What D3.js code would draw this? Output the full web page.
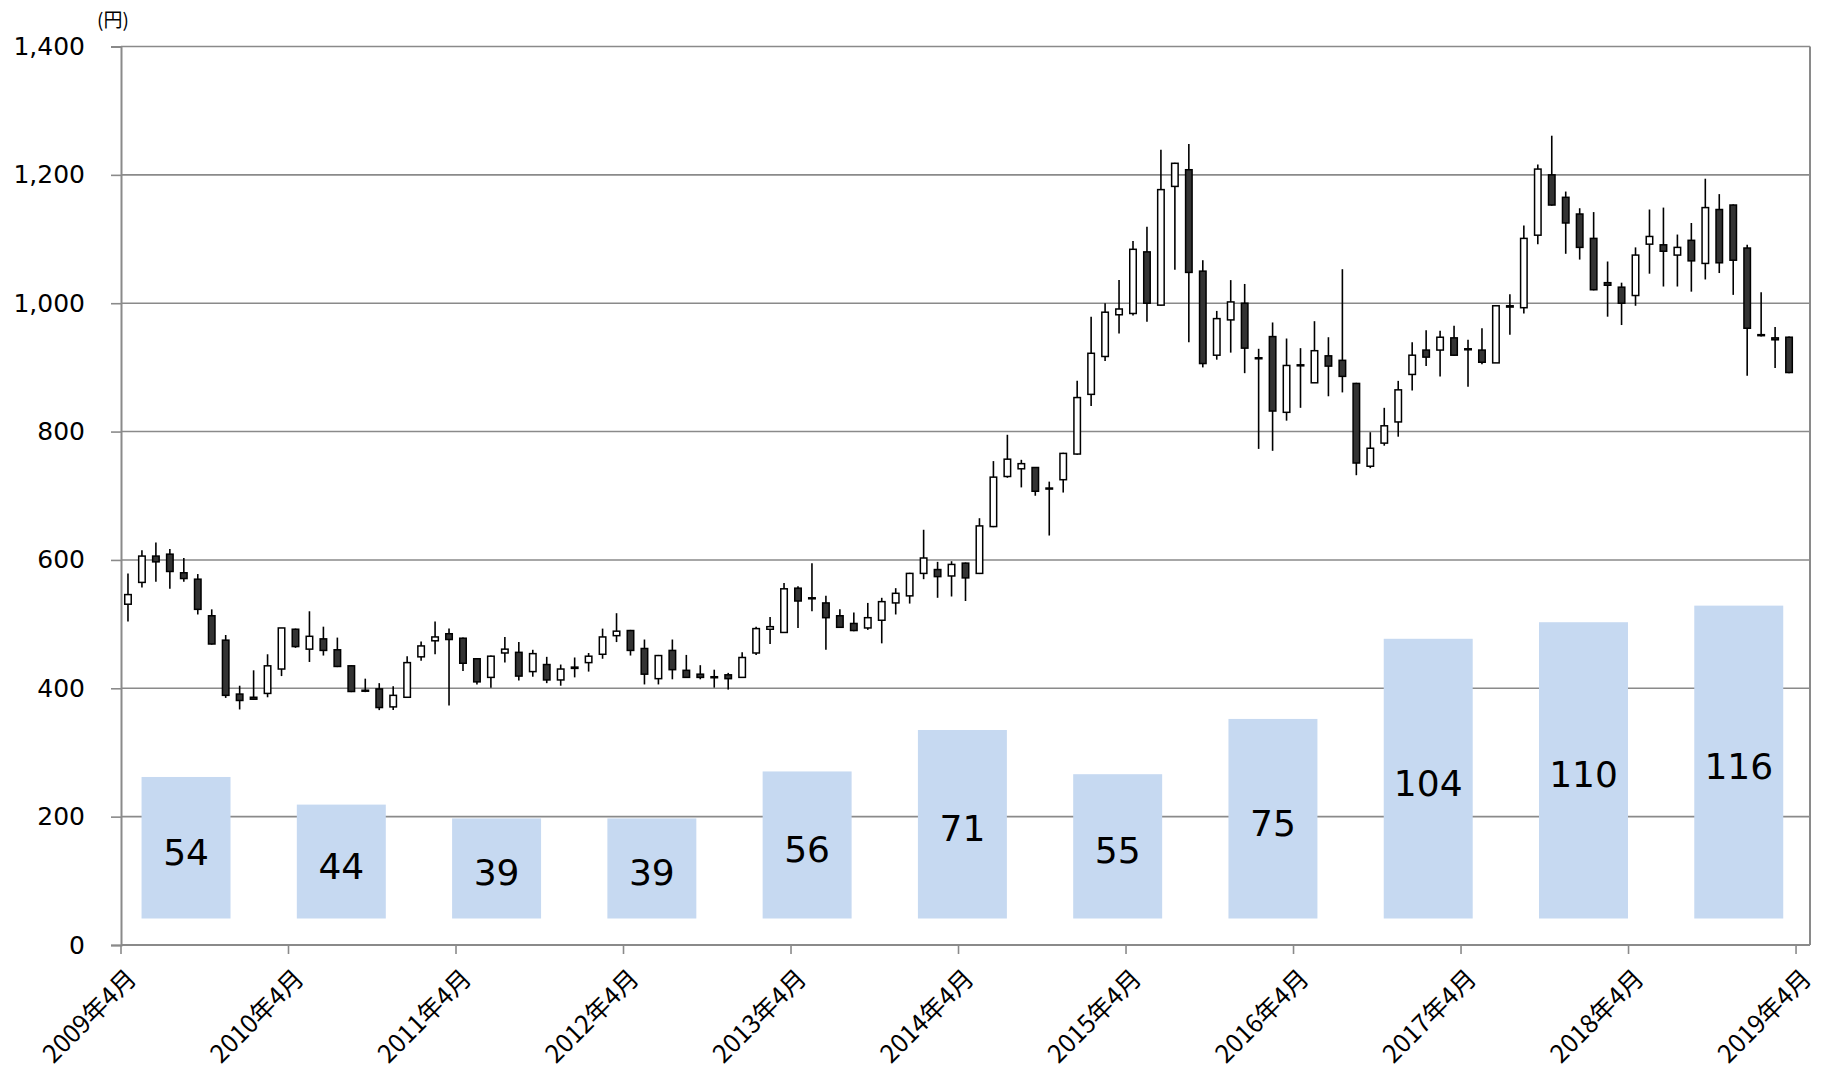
<!DOCTYPE html>
<html>
<head>
<meta charset="utf-8">
<script src="https://cdn.jsdelivr.net/npm/d3@7/dist/d3.min.js"></script>
<style>
  body { margin: 0; background: #fff; }
  text { font-family: "DejaVu Sans", "Noto Sans CJK JP", sans-serif; }
</style>
</head>
<body>
<div id="chart"></div>
<script>
// monthly candles, 2009年4月 .. 2019年3月
var openP = [531,565,606,609,580,570,513,475,391,386,392,430,
             492,461,477,460,435,397,399,371,386,449,474,485,
             478,446,417,455,456,426,437,413,431,440,453,482,
             490,462,415,459,428,422,418,421,417,455,492,487,
             556,541,533,513,501,494,506,533,544,579,585,575,
             595,579,652,730,742,744,712,725,765,858,917,982,
             984,1080,997,1182,1208,1050,919,974,1000,915,948,830,
             904,876,918,911,875,746,782,815,889,927,927,946,
             929,927,907,994,993,1106,1200,1165,1139,1101,1032,1025,
             1012,1092,1091,1075,1098,1062,1146,1153,1086,951,946,947];
var highP = [579,615,627,617,603,578,523,483,404,428,453,494,
             493,520,496,479,436,415,408,403,450,473,504,493,
             479,446,451,480,472,460,449,437,448,455,493,517,
             491,476,452,476,452,436,429,424,456,496,511,564,
             559,595,544,523,518,533,541,556,580,647,597,598,
             596,665,754,795,756,744,722,767,879,979,1000,1036,
             1097,1119,1239,1219,1248,1067,988,1036,1030,929,970,945,
             930,972,947,1053,876,799,837,879,939,958,957,965,
             943,961,997,1014,1121,1216,1261,1174,1148,1142,1065,1032,
             1087,1146,1149,1107,1125,1194,1170,1154,1091,1017,963,948];
var lowP  = [504,557,566,555,566,515,468,385,367,382,386,419,
             463,441,451,433,394,394,366,366,385,443,453,373,
             427,406,401,440,412,418,408,404,417,426,446,472,
             451,406,406,414,416,414,401,398,416,452,469,487,
             494,520,460,494,489,491,470,515,532,570,541,543,
             536,578,651,728,713,700,638,705,764,840,910,953,
             981,971,996,1052,939,900,912,923,891,773,770,817,
             837,876,855,861,732,743,778,792,864,902,886,918,
             870,905,907,951,984,1092,1152,1077,1068,1020,979,966,
             996,1046,1026,1026,1018,1037,1047,1013,887,948,899,891];
var closeP = [546,606,597,582,571,523,469,389,381,383,435,494,
              465,481,459,434,395,396,370,389,440,466,480,476,
              439,410,450,461,419,454,413,430,433,450,480,489,
              459,422,451,429,417,417,417,415,448,493,496,555,
              536,540,510,495,490,510,535,548,579,603,574,593,
              572,653,729,757,750,707,711,766,853,922,986,991,
              1084,1000,1177,1218,1048,906,976,1002,930,914,832,903,
              903,926,902,886,751,774,809,865,919,916,947,919,
              928,908,996,996,1101,1209,1153,1125,1087,1021,1028,1000,
              1075,1104,1081,1087,1066,1149,1063,1067,961,950,943,892];

// yearly bars (円)
var barYears = ["2009","2010","2011","2012","2013","2014","2015","2016","2017","2018","2019"];
var barValues = [54, 44, 39, 39, 56, 71, 55, 75, 104, 110, 116];

var yTicks = [0, 200, 400, 600, 800, 1000, 1200, 1400];

var width = 1823;
var height = 1069;
var pLeft = 121, pRight = 1810, pTop = 46.5, pBottom = 945;
var barBase = 918.5;

// month categories, one extra for the closing 2019年4月 tick
var months = d3.timeMonth.range(new Date(2009, 3, 1), new Date(2019, 4, 1));
var monthFmt = function (d) { return d.getFullYear() + "年" + (d.getMonth() + 1) + "月"; };

var candles = [];
for (var i = 0; i < openP.length; i++) {
    candles.push({ m: months[i], o: openP[i], h: highP[i], l: lowP[i], c: closeP[i] });
}

var svg = d3.select("#chart").append("svg")
    .attr("width", width)
    .attr("height", height);

var x = d3.scaleBand().domain(months).range([pLeft, pRight]).padding(0);
var y = d3.scaleLinear().domain([0, 1400]).range([pBottom, pTop]);

// bars sit on their own hidden scale
var xb = d3.scaleBand().domain(barYears).range([108.4, 1816.4])
    .paddingInner(0.427).paddingOuter(0.2135);
var yb = d3.scaleLinear().domain([0, 200]).range([926.2, 373.5]);

var gridColor = "#8a8a8a";

//gridlines
svg.append("g")
    .selectAll("line")
    .data(yTicks.filter(function (d) { return d > 0; }))
    .enter().append("line")
    .attr("x1", pLeft).attr("x2", pRight)
    .attr("y1", function (d) { return y(d); })
    .attr("y2", function (d) { return y(d); })
    .attr("stroke", gridColor)
    .attr("stroke-width", 1.6);

//bars
var bars = svg.append("g");
bars.selectAll("rect")
    .data(barValues)
    .enter().append("rect")
    .attr("x", function (d, i) { return xb(barYears[i]); })
    .attr("width", xb.bandwidth())
    .attr("y", function (d) { return yb(d); })
    .attr("height", function (d) { return barBase - yb(d); })
    .attr("fill", "#c6d9f1");

bars.selectAll("text")
    .data(barValues)
    .enter().append("text")
    .attr("x", function (d, i) { return xb(barYears[i]) + xb.bandwidth() / 2; })
    .attr("y", function (d) { return (yb(d) + barBase) / 2 + 4; })
    .attr("dy", "0.36em")
    .attr("text-anchor", "middle")
    .attr("font-size", 36)
    .attr("fill", "#000")
    .text(function (d) { return d; });

//y axis
var yAxis = svg.append("g")
    .attr("transform", "translate(" + pLeft + ",0)")
    .call(d3.axisLeft(y).tickValues(yTicks).tickSize(10).tickPadding(26)
        .tickFormat(d3.format(",")));
yAxis.select(".domain").attr("stroke", gridColor).attr("stroke-width", 2);
yAxis.selectAll(".tick line").attr("stroke", gridColor).attr("stroke-width", 1.6);
yAxis.selectAll(".tick text").attr("font-size", 25).attr("fill", "#000")
    .style("font-family", "DejaVu Sans");

// right border
svg.append("line")
    .attr("x1", pRight).attr("x2", pRight)
    .attr("y1", pTop).attr("y2", pBottom)
    .attr("stroke", gridColor).attr("stroke-width", 2);

//x axis
var tickMonths = months.filter(function (d, i) { return i % 12 === 0; });
svg.append("line")
    .attr("x1", pLeft).attr("x2", pRight)
    .attr("y1", pBottom).attr("y2", pBottom)
    .attr("stroke", gridColor).attr("stroke-width", 2);

var xt = svg.append("g").selectAll("g")
    .data(tickMonths)
    .enter().append("g")
    .attr("transform", function (d) { return "translate(" + x(d) + "," + pBottom + ")"; });
xt.append("line")
    .attr("y1", 0).attr("y2", 9)
    .attr("stroke", gridColor).attr("stroke-width", 1.6);
xt.append("text")
    .attr("transform", "translate(17,35) rotate(-45)")
    .attr("text-anchor", "end")
    .attr("font-size", 25)
    .attr("fill", "#000")
    .style("font-family", "Noto Sans CJK JP")
    .text(monthFmt);

// unit
svg.append("text")
    .attr("x", 113).attr("y", 20)
    .attr("text-anchor", "middle")
    .attr("dy", "0.35em")
    .attr("font-size", 19)
    .style("font-family", "Noto Sans CJK JP")
    .text("(円)");

//candles
var cw = 6.5;
var cg = svg.append("g")
    .selectAll("g")
    .data(candles)
    .enter().append("g");

cg.append("line")
    .attr("x1", function (d) { return x(d.m) + x.bandwidth() / 2; })
    .attr("x2", function (d) { return x(d.m) + x.bandwidth() / 2; })
    .attr("y1", function (d) { return y(d.h); })
    .attr("y2", function (d) { return y(d.l); })
    .attr("stroke", "#000")
    .attr("stroke-width", 1.6);

cg.append("rect")
    .attr("x", function (d) { return x(d.m) + x.bandwidth() / 2 - cw / 2; })
    .attr("width", cw)
    .attr("y", function (d) { return y(Math.max(d.o, d.c)); })
    .attr("height", function (d) { return Math.max(1, Math.abs(y(d.o) - y(d.c))); })
    .attr("fill", function (d) { return d.c >= d.o ? "#fff" : "#333"; })
    .attr("stroke", "#000")
    .attr("stroke-width", 1.5);
</script>
</body>
</html>
